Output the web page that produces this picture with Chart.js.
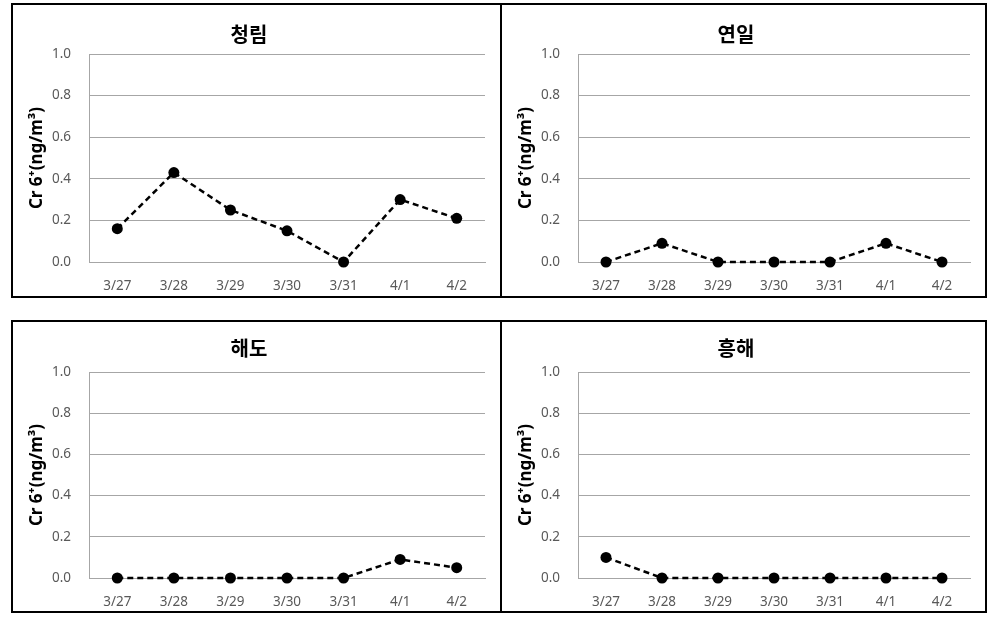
<!DOCTYPE html>
<html>
<head>
<meta charset="utf-8">
<script src="https://cdn.jsdelivr.net/npm/chart.js@4.4.0/dist/chart.umd.min.js"></script>
<style>
body { margin: 0; background: #fff; width: 998px; height: 627px; position: relative; overflow: hidden; }
.panel { position: absolute; border: 2px solid #000; box-sizing: border-box; background: #fff; }
.panel canvas { display: block; }
</style>
</head>
<body>
<div class="panel" style="left:11px;top:3px;width:491px;height:295px"><canvas id="c1" width="487" height="291"></canvas></div>
<div class="panel" style="left:500px;top:3px;width:487px;height:295px"><canvas id="c2" width="483" height="291"></canvas></div>
<div class="panel" style="left:11px;top:320px;width:491px;height:293px"><canvas id="c3" width="487" height="289"></canvas></div>
<div class="panel" style="left:500px;top:320px;width:487px;height:293px"><canvas id="c4" width="483" height="289"></canvas></div>
<script>
// sampling dates and Cr6+ concentrations (ng/m3) per site
const dates = ['3/27', '3/28', '3/29', '3/30', '3/31', '4/1', '4/2'];
const cheongnim = [0.16, 0.43, 0.25, 0.15, 0.00, 0.30, 0.21];
const yeonil = [0.00, 0.09, 0.00, 0.00, 0.00, 0.09, 0.00];
const haedo = [0.00, 0.00, 0.00, 0.00, 0.00, 0.09, 0.05];
const heunghae = [0.10, 0.00, 0.00, 0.00, 0.00, 0.00, 0.00];
const yMin = 0, yMax = 1.0, yStep = 0.2;

Chart.defaults.font.family = "'Noto Sans', 'Noto Sans CJK KR', sans-serif";

const GRID = '#a6a6a6';
const TICK = '#595959';

function makeChart(id, title, values, titlePad, axisHeight) {
    new Chart(document.getElementById(id), {
        type: 'line',
        data: {
            labels: dates,
            datasets: [{
                data: values,
                borderColor: '#000',
                borderWidth: 2.5,
                borderDash: [6, 4],
                pointRadius: 5.5,
                pointBorderWidth: 0,
                pointBackgroundColor: '#000',
                tension: 0,
                clip: false
            }]
        },
        options: {
            responsive: false,
            animation: false,
            layout: { padding: { top: 0, right: 15, bottom: 0, left: 0 } },
            plugins: {
                legend: { display: false },
                tooltip: { enabled: false },
                title: {
                    display: true,
                    text: title,
                    color: '#000',
                    font: { family: "'Noto Sans CJK KR', sans-serif", size: 20, weight: 'bold', lineHeight: 1.2 },
                    padding: titlePad
                }
            },
            scales: {
                x: {
                    offset: true,
                    grid: { display: false },
                    border: { display: true, color: GRID, width: 1 },
                    ticks: { color: TICK, font: { size: 13.5 }, padding: 8, maxRotation: 0 },
                    afterFit: s => { s.height = axisHeight; }
                },
                y: {
                    min: yMin,
                    max: yMax,
                    grid: { color: GRID, lineWidth: 1, drawTicks: false },
                    border: { display: true, color: GRID, width: 1 },
                    ticks: { stepSize: yStep, color: TICK, font: { size: 13.5 }, padding: 18,
                             callback: v => v.toFixed(1) },
                    title: {
                        display: true,
                        text: 'Cr 6⁺(ng/m³)',
                        color: '#000',
                        font: { size: 17, weight: 'bold' },
                        padding: { top: 14, bottom: 0 }
                    },
                    afterFit: s => { s.width = 76; }
                }
            }
        }
    });
}

makeChart('c1', '청림', cheongnim, { top: 17, bottom: 8 }, 34);
makeChart('c2', '연일', yeonil, { top: 17, bottom: 8 }, 34);
makeChart('c3', '해도', haedo, { top: 14, bottom: 12 }, 33);
makeChart('c4', '흥해', heunghae, { top: 14, bottom: 12 }, 33);
</script>
</body>
</html>
